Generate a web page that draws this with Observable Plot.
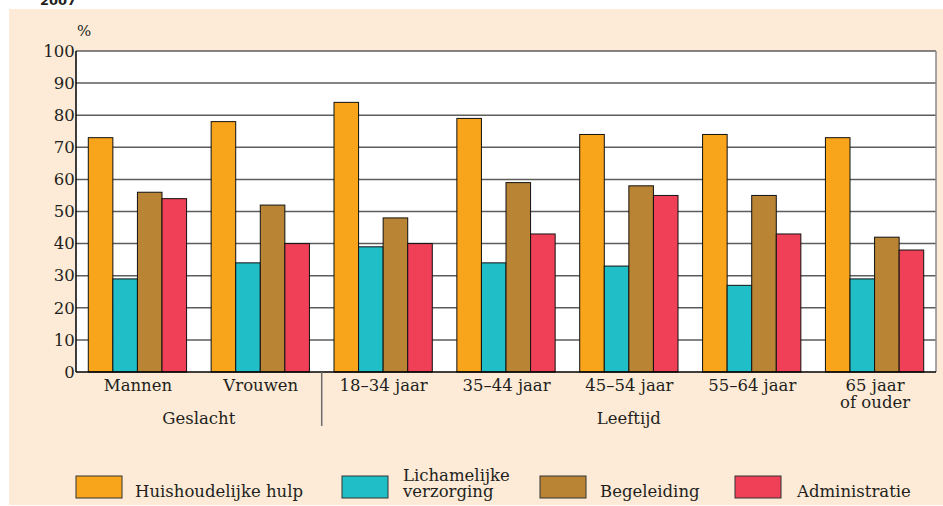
<!DOCTYPE html>
<html><head><meta charset="utf-8">
<script src="https://cdn.jsdelivr.net/npm/d3@7"></script>
<script src="https://cdn.jsdelivr.net/npm/@observablehq/plot@0.6"></script>
<style>body{margin:0;background:#fff}</style>
</head><body><div id="chart"></div>
<script>
const groups = ["Mannen","Vrouwen","18–34 jaar","35–44 jaar","45–54 jaar","55–64 jaar","65 jaar\nof ouder"];
const series = ["Huishoudelijke hulp","Lichamelijke verzorging","Begeleiding","Administratie"];
const huishoudelijkeHulp = [73,78,84,79,74,74,73];
const lichamelijkeVerzorging = [29,34,39,34,33,27,29];
const begeleiding = [56,52,48,59,58,55,42];
const administratie = [54,40,40,43,55,43,38];
const seriesColors = ["#F8A51B","#20BEC7","#B98534","#EF4057"];
const yTicks = [0,10,20,30,40,50,60,70,80,90,100];
const groupLabels = [
  {label:"Geslacht", from:"Mannen", to:"Vrouwen"},
  {label:"Leeftijd", from:"18–34 jaar", to:"65 jaar\nof ouder"}
];
const legendLabels = [["Huishoudelijke hulp"],["Lichamelijke","verzorging"],["Begeleiding"],["Administratie"]];

const valuesBySeries = [huishoudelijkeHulp, lichamelijkeVerzorging, begeleiding, administratie];
const data = [];
groups.forEach((g,i)=>series.forEach((s,j)=>data.push({group:g, series:s, value:valuesBySeries[j][i]})));

const FONT = "DejaVu Serif";
const FS = 16.5;
const TXT = "#231f20";
const W = 943, H = 506, ML = 76, MR = 7, MT = 51, MB = 134;

const plot = Plot.plot({
  width: W, height: H,
  marginLeft: ML, marginRight: MR, marginTop: MT, marginBottom: MB,
  style: {fontFamily: FONT, fontSize: FS + "px", background: "transparent", color: TXT, overflow: "visible"},
  fx: {domain: groups, paddingInner: 0.2, paddingOuter: 0.1, round: false, label: null},
  x: {domain: series, padding: 0, round: false, axis: null},
  y: {domain: [0,100]},
  color: {domain: series, range: seriesColors},
  marks: [
    Plot.barY(data, {fx: "group", x: "series", y: "value", fill: "series", stroke: "#111", strokeWidth: 1}),
    Plot.axisY({ticks: yTicks, tickSize: 0, tickPadding: 14, label: null, fontSize: FS}),
    Plot.axisFx({anchor: "bottom", tickSize: 0, tickPadding: 7, label: null, fontSize: FS, lineHeight: 1.0})
  ]
});
document.getElementById("chart").appendChild(plot);

const svg = d3.select(plot);
const y = plot.scale("y"), fx = plot.scale("fx");
const bw = fx.bandwidth;
const x0 = ML, x1 = W - MR, yTop = y.apply(100), yBot = y.apply(0);

// background layers
const bg = svg.insert("g", ":first-child");
bg.append("rect").attr("x", 9).attr("y", 9).attr("width", W - 9).attr("height", H - 10).attr("fill", "#FDEBD7");
bg.append("rect").attr("x", x0).attr("y", yTop).attr("width", x1 - x0).attr("height", yBot - yTop).attr("fill", "#fff");
yTicks.filter(t => t > 0).forEach(t => {
  bg.append("line").attr("x1", x0).attr("x2", x1).attr("y1", y.apply(t)).attr("y2", y.apply(t))
    .attr("stroke", "#5c5c5c").attr("stroke-width", 1.5);
});

// frame lines on top
const fg = svg.append("g").attr("text-anchor", "start");
fg.append("line").attr("x1", x1).attr("x2", x1).attr("y1", yTop).attr("y2", yBot).attr("stroke", "#8a8a8a").attr("stroke-width", 1.5);
fg.append("line").attr("x1", x0).attr("x2", x0).attr("y1", yTop).attr("y2", yBot).attr("stroke", "#000").attr("stroke-width", 1.5);
fg.append("line").attr("x1", x0).attr("x2", x1).attr("y1", yBot).attr("y2", yBot).attr("stroke", "#000").attr("stroke-width", 1.5);

// percent unit
fg.append("text").attr("x", 77).attr("y", 36).attr("text-anchor", "start").attr("font-family", FONT).attr("font-size", 15).attr("fill", TXT).text("%");
// year (cut off at top, as in the reference)
fg.append("text").attr("x", 40).attr("y", 5).attr("text-anchor", "start").attr("font-family", "DejaVu Sans").attr("font-weight", "bold").attr("font-size", 13).attr("fill", TXT).text("2007");

// group labels + separator
groupLabels.forEach(gl => {
  const a = fx.apply(gl.from), b = fx.apply(gl.to) + bw;
  fg.append("text").attr("x", (a + b) / 2).attr("y", 424).attr("text-anchor", "middle")
    .attr("font-family", FONT).attr("font-size", FS).attr("fill", TXT).text(gl.label);
});
const sepX = (fx.apply(groupLabels[0].to) + bw + fx.apply(groupLabels[1].from)) / 2;
fg.append("line").attr("x1", sepX).attr("x2", sepX).attr("y1", yBot).attr("y2", 426).attr("stroke", "#6b6b6b").attr("stroke-width", 1.5);

// legend
const color = plot.scale("color");
const swX = [76, 342, 540, 735], lbX = [135, 403, 600, 797];
series.forEach((s, i) => {
  fg.append("rect").attr("x", swX[i]).attr("y", 476).attr("width", 46).attr("height", 22)
    .attr("fill", color.apply(s)).attr("stroke", "#333").attr("stroke-width", 1);
  const lines = legendLabels[i];
  const t = fg.append("text").attr("text-anchor", "start").attr("font-family", FONT).attr("font-size", FS).attr("fill", TXT);
  lines.forEach((ln, k) => {
    t.append("tspan").attr("x", lbX[i]).attr("y", 497 - (lines.length - 1 - k) * 16).text(ln);
  });
});
</script>
</body></html>
